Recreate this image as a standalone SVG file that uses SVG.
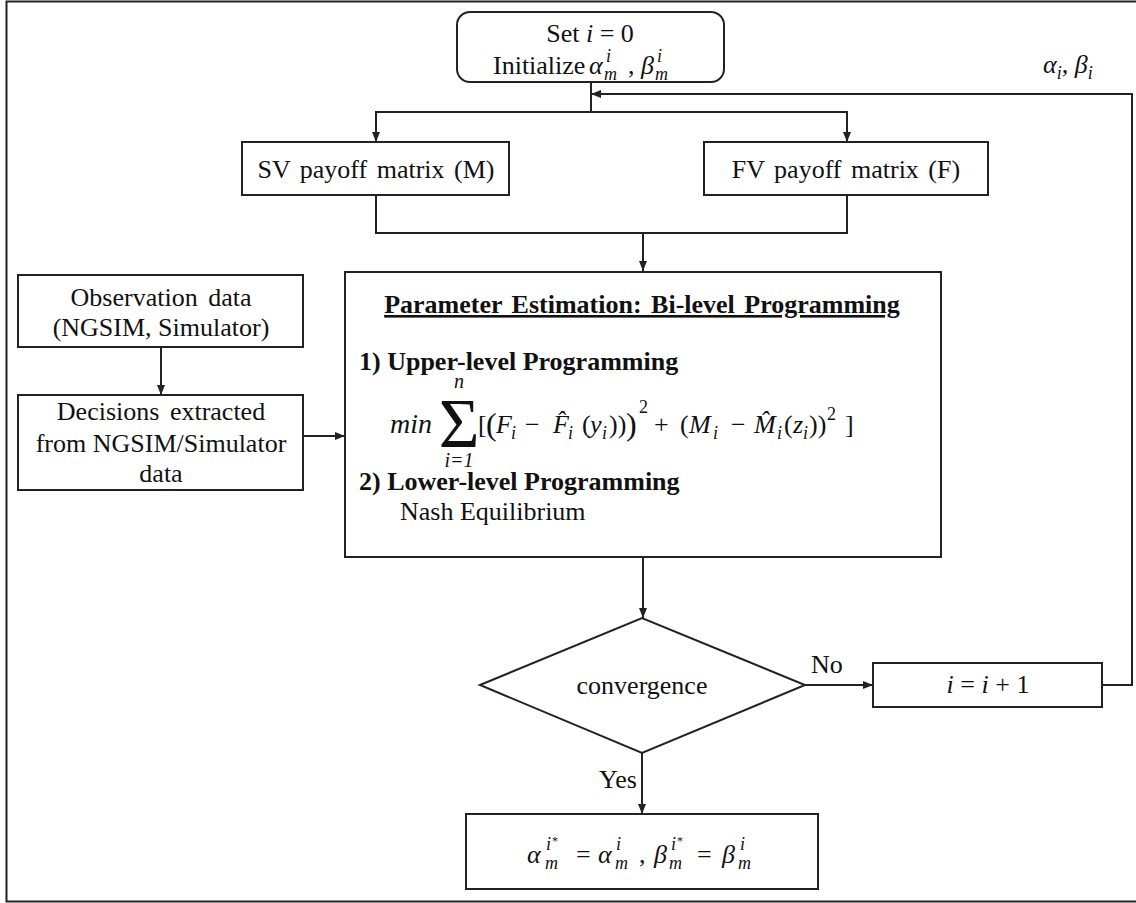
<svg xmlns="http://www.w3.org/2000/svg" width="1136" height="903" viewBox="0 0 1136 903">
<style>
.t{font-family:"Liberation Serif","Times New Roman",serif;font-size:26px;fill:#111}
.m{font-style:italic}
.b{font-weight:bold}
.s{font-size:18px}
.box{fill:#fff;stroke:#222;stroke-width:2}
.ln{fill:none;stroke:#222;stroke-width:2}
</style>
<defs>
<marker id="ah" viewBox="0 0 10 10" refX="10" refY="5" markerWidth="10" markerHeight="10" markerUnits="userSpaceOnUse" orient="auto"><path d="M0,1 L10,5 L0,9 z" fill="#222"/></marker>
</defs>
<rect x="6.5" y="1.5" width="1135" height="900" fill="#fff" stroke="#222" stroke-width="2"/>
<g id="connectors">
<path class="ln" d="M591,82 V112"/>
<path class="ln" d="M376,142 V112 H847 V142" marker-end="url(#ah)"/>
<path class="ln" d="M376,112 V142" marker-end="url(#ah)"/>
<path class="ln" d="M376,195 V233 H847 V195"/>
<path class="ln" d="M643,233 V271" marker-end="url(#ah)"/>
<path class="ln" d="M161,347 V395" marker-end="url(#ah)"/>
<path class="ln" d="M303,436 H345" marker-end="url(#ah)"/>
<path class="ln" d="M643,557 V618" marker-end="url(#ah)"/>
<path class="ln" d="M642,753 V814" marker-end="url(#ah)"/>
<path class="ln" d="M805,685 H873" marker-end="url(#ah)"/>
<path class="ln" d="M1102,685 H1132 V94 H591" marker-end="url(#ah)"/>
<text class="t" x="811" y="673">No</text>
<text class="t" x="599" y="788">Yes</text>
<text class="t m" x="1043" y="73">α<tspan class="s" y="79">i</tspan><tspan y="73">, β</tspan><tspan class="s" y="79">i</tspan></text>
</g>
<g id="start">
<rect class="box" x="457" y="12" width="267" height="70" rx="13"/>
<text class="t" x="590" y="42" text-anchor="middle">Set <tspan class="m">i</tspan> = 0</text>
<text class="t" y="74"><tspan x="493">Initialize</tspan><tspan x="589" class="m">α</tspan><tspan x="604" y="80" class="m s">m</tspan><tspan x="606" y="62" class="m s">i</tspan><tspan x="628" y="74">,</tspan><tspan x="641" class="m">β</tspan><tspan x="655" y="80" class="m s">m</tspan><tspan x="657" y="62" class="m s">i</tspan></text>
</g>
<g id="sv">
<rect class="box" x="242" y="142" width="267" height="53"/>
<text class="t" x="376" y="178" text-anchor="middle" word-spacing="3">SV payoff matrix (M)</text>
</g>
<g id="fv">
<rect class="box" x="704" y="142" width="284" height="53"/>
<text class="t" x="846" y="178" text-anchor="middle" word-spacing="3">FV payoff matrix (F)</text>
</g>
<g id="obs">
<rect class="box" x="18" y="275" width="285" height="72"/>
<text class="t" x="161" y="306" text-anchor="middle" word-spacing="4">Observation data</text>
<text class="t" x="161" y="336" text-anchor="middle">(NGSIM, Simulator)</text>
</g>
<g id="decisions">
<rect class="box" x="18" y="395" width="285" height="95"/>
<text class="t" x="161" y="420" text-anchor="middle" word-spacing="4">Decisions extracted</text>
<text class="t" x="161" y="452" text-anchor="middle">from NGSIM/Simulator</text>
<text class="t" x="161" y="482" text-anchor="middle">data</text>
</g>
<g id="estimation">
<rect class="box" x="345" y="272" width="596" height="285"/>
<text class="t b" x="642" y="313" text-anchor="middle" text-decoration="underline" word-spacing="3">Parameter Estimation: Bi-level Programming</text>
<text class="t b" x="359" y="370">1) Upper-level Programming</text>
<text class="t m" x="390" y="433" style="font-size:28px">min</text>
<text class="t" x="459" y="447" text-anchor="middle" style="font-size:70px">Σ</text>
<text class="t m" x="459" y="388" text-anchor="middle" style="font-size:20px">n</text>
<text class="t m" x="459" y="467" text-anchor="middle" style="font-size:20px">i=1</text>
<text class="t" y="433"><tspan x="478">[</tspan><tspan x="486" style="font-size:32px" y="435">(</tspan><tspan x="496" y="433" class="m">F</tspan><tspan x="511" y="439" class="m s">i</tspan><tspan x="525" y="433">−</tspan><tspan x="553" class="m">F̂</tspan><tspan x="568" y="439" class="m s">i</tspan><tspan x="582" y="433">(</tspan><tspan x="590" class="m">y</tspan><tspan x="602" y="439" class="m s">i</tspan><tspan x="609" y="433">))</tspan><tspan x="626" style="font-size:32px" y="435">)</tspan><tspan x="639" y="413" class="s">2</tspan><tspan x="654" y="433">+</tspan><tspan x="680">(</tspan><tspan x="689" class="m">M</tspan><tspan x="713" y="439" class="m s">i</tspan><tspan x="731" y="433">−</tspan><tspan x="754" class="m">M̂</tspan><tspan x="777" y="439" class="m s">i</tspan><tspan x="784" y="433">(</tspan><tspan x="793" class="m">z</tspan><tspan x="803" y="439" class="m s">i</tspan><tspan x="809" y="433">))</tspan><tspan x="827" y="420" class="s">2</tspan><tspan x="845" y="433">]</tspan></text>
<text class="t b" x="359" y="490">2) Lower-level Programming</text>
<text class="t" x="400" y="520">Nash Equilibrium</text>
</g>
<g id="convergence">
<polygon class="box" points="480,685 642,618 805,685 642,753"/>
<text class="t" x="642" y="694" text-anchor="middle">convergence</text>
</g>
<g id="increment">
<rect class="box" x="873" y="663" width="229" height="44"/>
<text class="t" x="988" y="693" text-anchor="middle"><tspan class="m">i</tspan> = <tspan class="m">i</tspan> + 1</text>
</g>
<g id="result">
<rect class="box" x="466" y="814" width="352" height="75"/>
<text class="t" y="863"><tspan x="527" class="m">α</tspan><tspan x="545" y="869" class="m s">m</tspan><tspan x="546" y="850" class="m s">i</tspan><tspan x="552" y="845" style="font-size:12px">*</tspan><tspan x="576" y="863">=</tspan><tspan x="598" class="m">α</tspan><tspan x="615" y="869" class="m s">m</tspan><tspan x="616" y="850" class="m s">i</tspan><tspan x="639" y="863">,</tspan><tspan x="654" class="m">β</tspan><tspan x="669" y="869" class="m s">m</tspan><tspan x="671" y="850" class="m s">i</tspan><tspan x="677" y="845" style="font-size:12px">*</tspan><tspan x="697" y="863">=</tspan><tspan x="722" class="m">β</tspan><tspan x="738" y="869" class="m s">m</tspan><tspan x="740" y="850" class="m s">i</tspan></text>
</g>
</svg>
